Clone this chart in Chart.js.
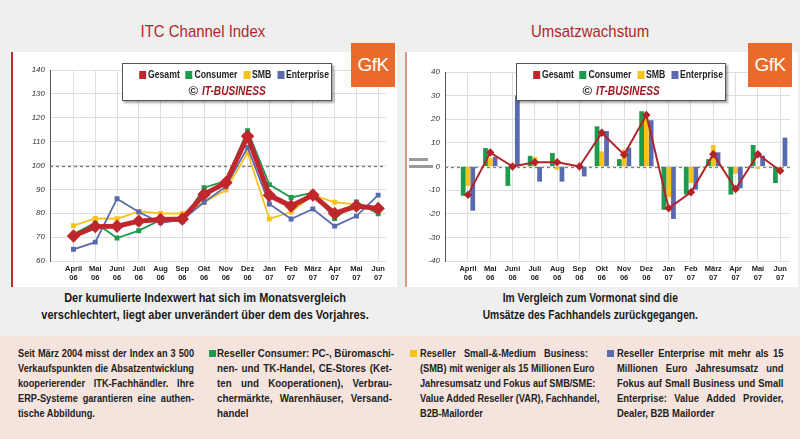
<!DOCTYPE html>
<html lang="de">
<head>
<meta charset="UTF-8">
<title>ITC Channel Index / Umsatzwachstum</title>
<script src="https://cdn.jsdelivr.net/npm/chart.js"></script>
<style>
  html, body { margin: 0; padding: 0; }
  body { width: 800px; height: 439px; position: relative; overflow: hidden; background: #efefef;
         font-family: "Liberation Sans", Arial, sans-serif; color: #222; }
  .nx { display: inline-block; transform-origin: center top; white-space: nowrap; }
  .title { position: absolute; top: 22px; width: 300px; text-align: center; font-size: 17px; color: #b3262b; }
  .title .nx { transform: scaleX(0.88); }
  .panel { position: absolute; top: 52px; height: 235px; background: #fff; }
  .panel canvas { position: absolute; left: 0; top: 0; }
  .gfk { position: absolute; top: 43px; width: 44px; height: 44px; background: #ea6a2c; color: #fff;
         font-size: 19px; line-height: 44px; text-align: center; letter-spacing: -0.5px; }
  .legend { position: absolute; top: 63px; width: 208px; height: 36px; background: #fff; border: 1px solid #555;
            box-shadow: 2px 2px 2px rgba(0,0,0,0.35); font-weight: bold; font-size: 10px; }
  .legend .row { text-align: center; margin-top: 5px; }
  .legend .row .nx { transform: scaleX(0.87); }
  .legend .item { margin: 0 2px; }
  .legend .sw { display: inline-block; width: 8px; height: 8px; margin-right: 2px; vertical-align: -1px; }
  .legend .copy { text-align: center; margin-top: 3px; font-size: 13px; line-height: 15px; }
  .legend .copy i { display: inline-block; font-weight: bold; color: #a3161f; font-size: 13px; transform: scaleX(0.78); transform-origin: left center; margin-right: -18px; }
  .caption { position: absolute; top: 290px; width: 400px; text-align: center; font-weight: bold; font-size: 12.5px; line-height: 17px; color: #1a1a1a; }
  .band { position: absolute; left: 0; top: 336px; width: 800px; height: 103px; background: #f5e4de; }
  .col { position: absolute; top: 346px; font-weight: bold; font-size: 11.5px; line-height: 15px; color: #222;
         transform-origin: left top; }
  .col div { text-align: justify; text-align-last: justify; white-space: nowrap; }
  .col div.last { text-align-last: left; }
  .sq { position: absolute; top: 350px; width: 7px; height: 7px; }
  .eq { position: absolute; background: #9a9a9a; height: 3px; }
</style>
</head>
<body>
<div class="title" style="left:53px"><span class="nx">ITC Channel Index</span></div>
<div class="title" style="left:440px"><span class="nx">Umsatzwachstum</span></div>

<div class="panel" style="left:11px;width:384px;border-left:2px solid #c22a2e">
  <canvas id="indexChart" width="382" height="235"></canvas>
</div>
<div class="panel" style="left:405px;width:391px;border-left:2px solid #d39a8a">
  <canvas id="growthChart" width="389" height="235"></canvas>
</div>
<div class="eq" style="left:409px;top:158px;width:19px"></div>
<div class="eq" style="left:409px;top:165px;width:24px"></div>

<div class="gfk" style="left:351px">GfK</div>
<div class="gfk" style="left:748px">GfK</div>

<div class="legend" style="left:122px">
  <div class="row"><span class="nx">
    <span class="item"><span class="sw" style="background:#c0272d"></span>Gesamt</span>
    <span class="item"><span class="sw" style="background:#1c9a4e"></span>Consumer</span>
    <span class="item"><span class="sw" style="background:#f8c21c"></span>SMB</span>
    <span class="item"><span class="sw" style="background:#5a6aae"></span>Enterprise</span>
  </span></div>
  <div class="copy">© <i>IT-BUSINESS</i></div>
</div>
<div class="legend" style="left:516px">
  <div class="row"><span class="nx">
    <span class="item"><span class="sw" style="background:#c0272d"></span>Gesamt</span>
    <span class="item"><span class="sw" style="background:#1c9a4e"></span>Consumer</span>
    <span class="item"><span class="sw" style="background:#f8c21c"></span>SMB</span>
    <span class="item"><span class="sw" style="background:#5a6aae"></span>Enterprise</span>
  </span></div>
  <div class="copy">© <i>IT-BUSINESS</i></div>
</div>

<div class="caption" style="left:5px"><span class="nx" style="transform:scaleX(0.88)">Der kumulierte Indexwert hat sich im Monatsvergleich<br>verschlechtert, liegt aber unverändert über dem des Vorjahres.</span></div>
<div class="caption" style="left:390px"><span class="nx" style="transform:scaleX(0.82)">Im Vergleich zum Vormonat sind die<br>Umsätze des Fachhandels zurückgegangen.</span></div>

<div class="band"></div>
<div class="col" style="left:18px;width:220px;transform:scaleX(0.8)">
  <div>Seit März 2004 misst der Index an 3 500</div>
  <div>Verkaufspunkten die Absatzentwicklung</div>
  <div>kooperierender ITK-Fachhändler. Ihre</div>
  <div>ERP-Systeme garantieren eine authen-</div>
  <div class="last">tische Abbildung.</div>
</div>
<div class="sq" style="left:209px;background:#1c9a4e"></div>
<div class="col" style="left:217px;width:206px;transform:scaleX(0.85)">
  <div>Reseller Consumer: PC-, Büromaschi-</div>
  <div>nen- und TK-Handel, CE-Stores (Ket-</div>
  <div>ten und Kooperationen), Verbrau-</div>
  <div>chermärkte, Warenhäuser, Versand-</div>
  <div class="last">handel</div>
</div>
<div class="sq" style="left:410px;background:#f8c21c"></div>
<div class="col" style="left:420px;width:210px;transform:scaleX(0.8)">
  <div>Reseller Small-&amp;-Medium Business:</div>
  <div>(SMB) mit weniger als 15 Millionen Euro</div>
  <div>Jahresumsatz und Fokus auf SMB/SME:</div>
  <div>Value Added Reseller (VAR), Fachhandel,</div>
  <div class="last">B2B-Mailorder</div>
</div>
<div class="sq" style="left:607px;background:#5a6aae"></div>
<div class="col" style="left:617px;width:203px;transform:scaleX(0.82)">
  <div>Reseller Enterprise mit mehr als 15</div>
  <div>Millionen Euro Jahresumsatz und</div>
  <div>Fokus auf Small Business und Small</div>
  <div>Enterprise: Value Added Provider,</div>
  <div class="last">Dealer, B2B Mailorder</div>
</div>

<script>
// month labels (two lines: month / year)
const months = ['April', 'Mai', 'Juni', 'Juli', 'Aug', 'Sep', 'Okt', 'Nov', 'Dez', 'Jan', 'Feb', 'März', 'Apr', 'Mai', 'Jun'];
const years = ['06', '06', '06', '06', '06', '06', '06', '06', '06', '07', '07', '07', '07', '07', '07'];

// ITC Channel Index
const indexGesamt = [70.5, 74.4, 74.6, 76.7, 77.4, 77.6, 87.9, 92.8, 112.3, 87.5, 83.0, 87.6, 79.9, 83.0, 82.0];
const indexConsumer = [71.3, 76.0, 69.6, 72.7, 77.2, 76.5, 90.7, 93.6, 114.6, 92.0, 86.6, 88.6, 77.8, 84.7, 79.8];
const indexSMB = [74.8, 77.8, 77.7, 80.8, 79.9, 79.9, 84.6, 89.7, 105.4, 77.6, 80.5, 87.6, 84.6, 83.7, 81.3];
const indexEnterprise = [64.9, 67.9, 86.1, 80.5, 76.0, 77.2, 84.6, 91.1, 107.6, 83.9, 77.6, 81.8, 74.6, 78.8, 87.6];

// Umsatzwachstum (%)
const growthGesamt = [-12, 5.9, 0, 1.8, 1.8, 0, 14.3, 5, 21.8, -17.7, -10.9, 5.2, -9.5, 5.2, -1.8];
const growthConsumer = [-12.4, 7.8, -8.2, 4.5, 5.7, 0, 17, 3.1, 23.4, -18.3, -11.9, 3.1, -11.9, 9.1, -7];
const growthSMB = [-8.2, 3.5, 0, 4, -1.4, 0, 6.4, 7.2, 20.2, -13, -7, 9.1, -3.1, -1, -1.8];
const growthEnterprise = [-18.7, 4, 30, -6.4, -6.4, -4.2, 15, 8, 19.6, -22.2, -9.8, 6, -9.2, 4.6, 12.2];

const RED = '#c0272d', GREEN = '#1c9a4e', YELLOW = '#f8c21c', BLUE = '#5a6aae';

const pts = arr => arr.map((v, i) => ({ x: i, y: v }));

// dashed reference line (100 / 0)
const refLine = {
    id: 'refLine',
    beforeDatasetsDraw(chart, args, opts) {
        const { ctx, chartArea, scales } = chart;
        const y = Math.round(scales.y.getPixelForValue(opts.value)) + 0.5;
        ctx.save();
        ctx.strokeStyle = opts.color;
        ctx.lineWidth = 1.3;
        ctx.setLineDash([3, 3]);
        ctx.beginPath();
        ctx.moveTo(chartArea.left, y);
        ctx.lineTo(chartArea.right, y);
        ctx.stroke();
        ctx.restore();
    }
};

function xScale(min, max) {
    return {
        type: 'linear', min: min, max: max, offset: false,
        afterBuildTicks: s => { s.ticks = months.map((m, i) => ({ value: i })); },
        afterFit: s => { s.height = 26; },
        ticks: {
            autoSkip: false, maxRotation: 0, padding: 3, color: '#222',
            font: { family: '"Liberation Sans", sans-serif', weight: 'bold', size: 7.5, lineHeight: 1.2 },
            callback: (v, i) => [months[i], years[i]]
        },
        grid: { color: '#dedede', drawTicks: false, offset: false },
        border: { display: false }
    };
}

function yScale(min, max, w) {
    return {
        min: min, max: max,
        afterFit: s => { s.width = w; },
        ticks: {
            stepSize: 5, padding: 5, color: '#333',
            font: { family: '"Liberation Sans", sans-serif', style: 'italic', size: 8 }
        },
        grid: { color: '#dedede', drawTicks: false },
        border: { color: '#555', width: 1 }
    };
}

const thinLine = (label, data, color) => ({
    label: label, data: pts(data), borderColor: color, backgroundColor: color,
    borderWidth: 1.8, pointStyle: 'rect', pointRadius: 2.2, order: 2
});

new Chart(document.getElementById('indexChart'), {
    type: 'line',
    data: {
        datasets: [
            thinLine('Enterprise', indexEnterprise, BLUE),
            thinLine('SMB', indexSMB, YELLOW),
            thinLine('Consumer', indexConsumer, GREEN),
            {
                label: 'Gesamt', data: pts(indexGesamt), borderColor: RED, backgroundColor: RED,
                borderWidth: 5, pointStyle: 'rectRot', pointRadius: 3.2, order: 0
            }
        ]
    },
    plugins: [refLine],
    options: {
        responsive: false, animation: false,
        layout: { padding: { top: 18, right: 2, left: 0, bottom: 0 } },
        plugins: { legend: { display: false }, tooltip: { enabled: false }, refLine: { value: 100, color: '#777' } },
        scales: { x: xScale(-1.08, 14.36), y: yScale(60, 140, 37) }
    }
});

const bar = (label, data, color) => ({
    type: 'bar', label: label, data: pts(data), backgroundColor: color,
    categoryPercentage: 0.64, barPercentage: 1.0, order: 2
});

new Chart(document.getElementById('growthChart'), {
    type: 'bar',
    data: {
        datasets: [
            bar('Consumer', growthConsumer, GREEN),
            bar('SMB', growthSMB, YELLOW),
            bar('Enterprise', growthEnterprise, BLUE),
            {
                type: 'line', label: 'Gesamt', data: pts(growthGesamt), borderColor: '#b3232a', backgroundColor: '#b3232a',
                borderWidth: 2, pointStyle: 'rectRot', pointRadius: 2.8, order: 0
            }
        ]
    },
    plugins: [refLine],
    options: {
        responsive: false, animation: false,
        layout: { padding: { top: 20, right: 4, left: 0, bottom: 0 } },
        plugins: { legend: { display: false }, tooltip: { enabled: false }, refLine: { value: 0, color: '#6f8a6f' } },
        scales: { x: xScale(-1.03, 14.44), y: yScale(-40, 40, 38) }
    }
});
</script>
</body>
</html>
